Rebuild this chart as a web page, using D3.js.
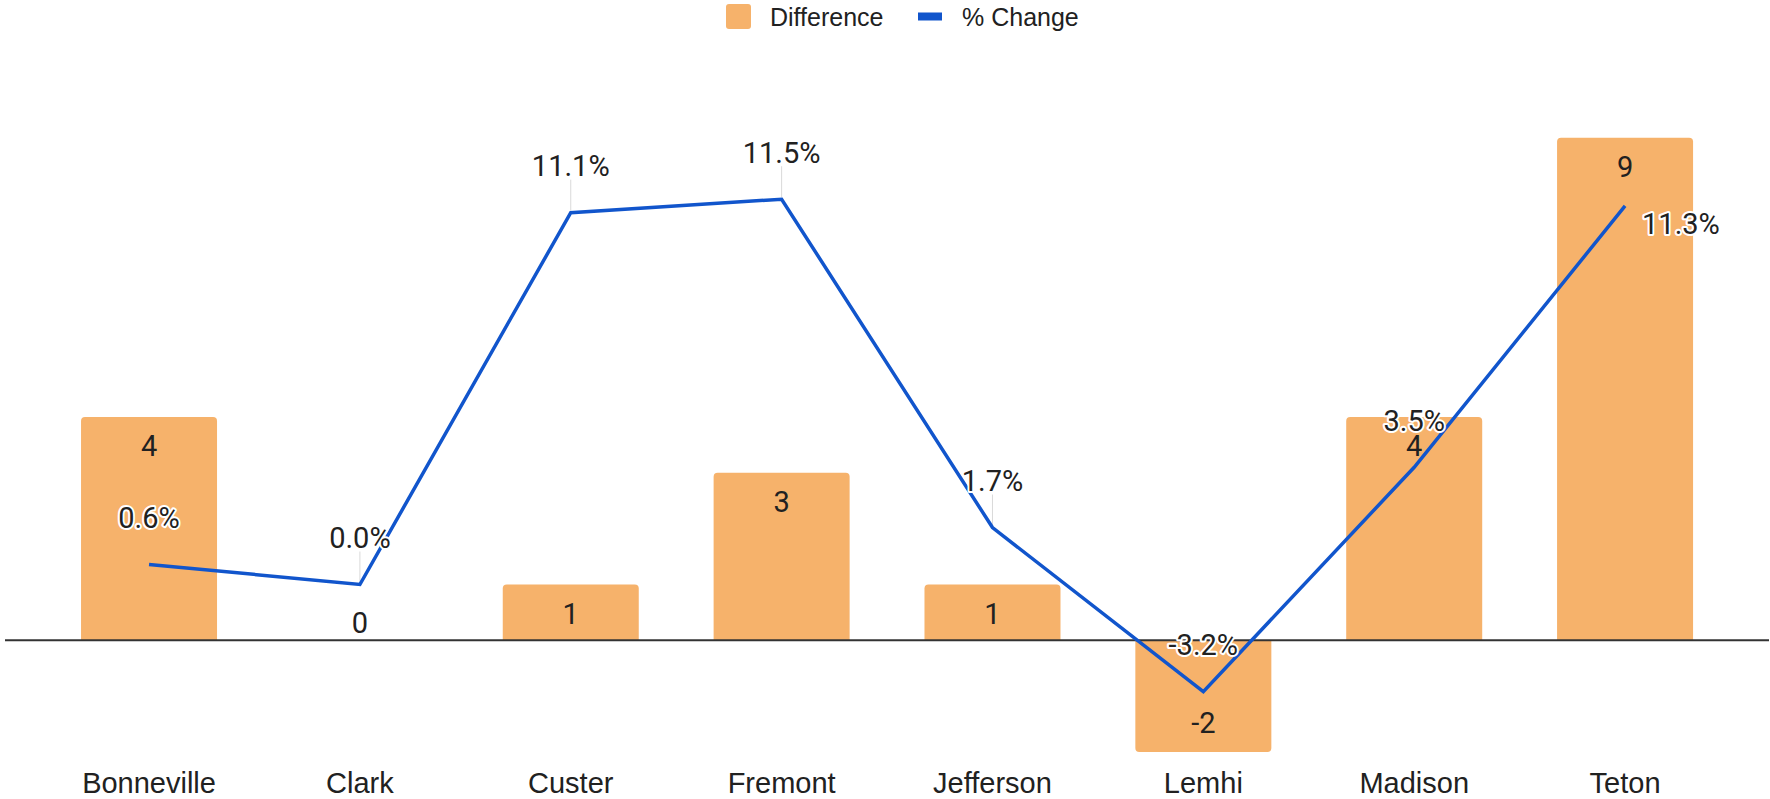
<!DOCTYPE html>
<html>
<head>
<meta charset="utf-8">
<script src="https://cdn.jsdelivr.net/npm/d3@7"></script>
<style>
  html, body { margin: 0; padding: 0; background: #fff; }
  svg { display: block; }
</style>
</head>
<body>
<svg id="chart" width="1770" height="799"></svg>
<script>
// County figures
const counties = ["Bonneville", "Clark", "Custer", "Fremont", "Jefferson", "Lemhi", "Madison", "Teton"];
const difference = [4, 0, 1, 3, 1, -2, 4, 9];
const pctChange = [0.6, 0.0, 11.1, 11.5, 1.7, -3.2, 3.5, 11.3];
const seriesNames = ["Difference", "% Change"];

const W = 1770, H = 799;
const barColor = "#f6b26b";
const lineColor = "#1155cc";
const textColor = "#212121";

const svg = d3.select("#chart");

const x = d3.scaleBand()
  .domain(counties)
  .range([43.6, 1730.5])
  .paddingInner(0.355)
  .paddingOuter(0.1775);

// Two value axes (not drawn): bar counts on the left, percentages on the right
const yBar = d3.scaleLinear().domain([-2, 10]).range([752, 82]);
const yPct = d3.scaleLinear().domain([-5, 15]).range([752, 82]);

const cx = d => x(d) + x.bandwidth() / 2;
const fmtPct = v => v.toFixed(1) + "%";

const labelOffset = 47;      // percentage label sits above its point
const lastIdx = counties.length - 1;

// Leader lines from percentage labels down to points (beneath the bars)
svg.append("g")
  .selectAll("line")
  .data(counties.map((c, i) => ({ c, v: pctChange[i], i })).filter(d => d.i !== lastIdx))
  .join("line")
  .attr("x1", d => cx(d.c))
  .attr("x2", d => cx(d.c))
  .attr("y1", d => yPct(d.v) - labelOffset + 14)
  .attr("y2", d => yPct(d.v) - 2)
  .attr("stroke", "#d9d9d9")
  .attr("stroke-width", 1);

// Bars with rounded corners on the end away from zero
function barPath(c, v) {
  const x0 = x(c), x1 = x0 + x.bandwidth();
  const y0 = yBar(0), y1 = yBar(v);
  if (v === 0) return "";
  const r = Math.min(4, Math.abs(y1 - y0) / 2);
  const s = v > 0 ? 1 : -1; // direction toward zero from the far end
  return [
    "M", x0, y0,
    "L", x0, y1 + s * r,
    "Q", x0, y1, x0 + r, y1,
    "L", x1 - r, y1,
    "Q", x1, y1, x1, y1 + s * r,
    "L", x1, y0, "Z"
  ].join(" ");
}

svg.append("g")
  .selectAll("path")
  .data(counties.map((c, i) => ({ c, v: difference[i] })))
  .join("path")
  .attr("d", d => barPath(d.c, d.v))
  .attr("fill", barColor);

// Zero baseline
svg.append("line")
  .attr("x1", 5).attr("x2", 1769)
  .attr("y1", yBar(0)).attr("y2", yBar(0))
  .attr("stroke", "#333")
  .attr("stroke-width", 2);

// Bar value labels
svg.append("g")
  .selectAll("text")
  .data(counties.map((c, i) => ({ c, v: difference[i] })))
  .join("text")
  .attr("x", d => cx(d.c))
  .attr("y", d => d.v > 0 ? yBar(d.v) + 29 : d.v < 0 ? yBar(d.v) - 29 : yBar(0) - 18)
  .attr("dy", "0.355em")
  .attr("text-anchor", "middle")
  .attr("font-family", "Roboto, sans-serif")
  .attr("font-size", 29)
  .attr("fill", textColor)
  .text(d => d.v);

// % Change line
const line = d3.line()
  .x((d, i) => cx(counties[i]))
  .y(d => yPct(d));

svg.append("path")
  .datum(pctChange)
  .attr("d", line)
  .attr("fill", "none")
  .attr("stroke", lineColor)
  .attr("stroke-width", 3.5)
  .attr("stroke-linejoin", "miter");

// Percentage labels with white halo
svg.append("g")
  .selectAll("text")
  .data(counties.map((c, i) => ({ c, v: pctChange[i], i })))
  .join("text")
  .attr("x", d => d.i === lastIdx ? cx(d.c) + 17 : cx(d.c))
  .attr("y", d => d.i === lastIdx ? yPct(d.v) + 18 : yPct(d.v) - labelOffset)
  .attr("dy", "0.355em")
  .attr("text-anchor", d => d.i === lastIdx ? "start" : "middle")
  .attr("font-family", "Roboto, sans-serif")
  .attr("font-size", 29)
  .attr("fill", textColor)
  .attr("stroke", "#fff")
  .attr("stroke-width", 4)
  .attr("stroke-linejoin", "round")
  .attr("paint-order", "stroke")
  .text(d => fmtPct(d.v));

// Category axis labels
const xAxis = d3.axisBottom(x).tickSize(0).tickPadding(0);
const gx = svg.append("g")
  .attr("transform", "translate(0,772)")
  .call(xAxis);
gx.select(".domain").remove();
gx.selectAll("text")
  .attr("font-family", "'Liberation Sans', Arial, sans-serif")
  .attr("font-size", 29)
  .attr("fill", textColor)
  .attr("dy", "0.71em");

// Legend
const legend = svg.append("g");
legend.append("rect")
  .attr("x", 726).attr("y", 4)
  .attr("width", 25).attr("height", 25)
  .attr("rx", 3)
  .attr("fill", barColor);
legend.append("text")
  .attr("x", 770).attr("y", 26)
  .attr("font-family", "'Liberation Sans', Arial, sans-serif")
  .attr("font-size", 25)
  .attr("fill", textColor)
  .text(seriesNames[0]);
legend.append("rect")
  .attr("x", 918).attr("y", 12.5)
  .attr("width", 24).attr("height", 8)
  .attr("fill", lineColor);
legend.append("text")
  .attr("x", 962).attr("y", 26)
  .attr("font-family", "'Liberation Sans', Arial, sans-serif")
  .attr("font-size", 25)
  .attr("fill", textColor)
  .text(seriesNames[1]);
</script>
</body>
</html>
